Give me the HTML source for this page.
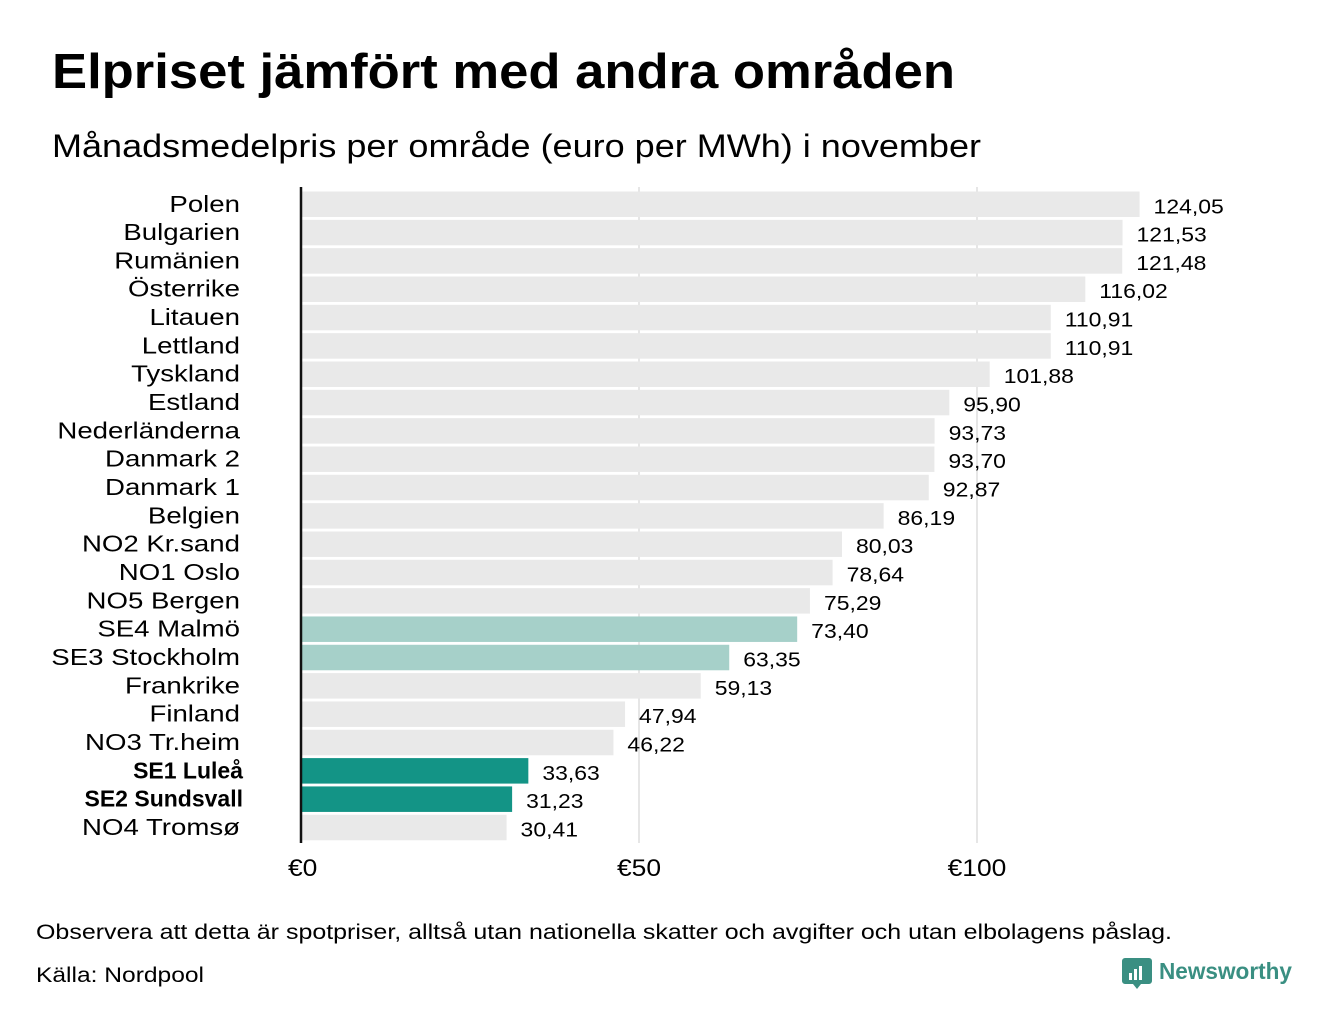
<!DOCTYPE html>
<html><head><meta charset="utf-8"><style>
body{margin:0;background:#fff;width:1340px;height:1020px;overflow:hidden;font-family:"Liberation Sans",sans-serif;color:#111}
</style></head><body>
<svg width="1340" height="1020" xmlns="http://www.w3.org/2000/svg" id="chart">
<text x="52" y="88" font-size="49" font-weight="bold" textLength="903" lengthAdjust="spacingAndGlyphs">Elpriset jämfört med andra områden</text>
<text x="52" y="157" font-size="32" textLength="929" lengthAdjust="spacingAndGlyphs">Månadsmedelpris per område (euro per MWh) i november</text>
<g id="grid"></g>
<g id="bars"></g>
<line x1="301" y1="187" x2="301" y2="843" stroke="#111" stroke-width="2.5"/>
<text x="36" y="939" font-size="21" textLength="1136" lengthAdjust="spacingAndGlyphs">Observera att detta är spotpriser, alltså utan nationella skatter och avgifter och utan elbolagens påslag.</text>
<text x="36" y="982" font-size="21" textLength="168" lengthAdjust="spacingAndGlyphs">Källa: Nordpool</text>
<g>
<path d="M1125 958 h24 a3 3 0 0 1 3 3 v20 a3 3 0 0 1 -3 3 h-8 l-4 5 l-4 -5 h-8 a3 3 0 0 1 -3 -3 v-20 a3 3 0 0 1 3 -3z" fill="#3a8f82"/>
<rect x="1129" y="973" width="3" height="7" fill="#fff"/><rect x="1134" y="969" width="3" height="11" fill="#fff"/><rect x="1139" y="966" width="3" height="14" fill="#fff"/>
<text x="1159" y="979" font-size="23" font-weight="bold" fill="#3a8f82" textLength="133" lengthAdjust="spacingAndGlyphs">Newsworthy</text>
</g>
</svg>
<script>
const categories=["Polen","Bulgarien","Rumänien","Österrike","Litauen","Lettland","Tyskland","Estland","Nederländerna","Danmark 2","Danmark 1","Belgien","NO2 Kr.sand","NO1 Oslo","NO5 Bergen","SE4 Malmö","SE3 Stockholm","Frankrike","Finland","NO3 Tr.heim","SE1 Luleå","SE2 Sundsvall","NO4 Tromsø"];
const values=[124.05,121.53,121.48,116.02,110.91,110.91,101.88,95.90,93.73,93.70,92.87,86.19,80.03,78.64,75.29,73.40,63.35,59.13,47.94,46.22,33.63,31.23,30.41];
const highlight=["","","","","","","","","","","","","","","","light","light","","","","dark","dark",""];
const ticks=[0,50,100];
const tickLabels=["€0","€50","€100"];
const NS="http://www.w3.org/2000/svg";
const x=v=>301+v*6.76;
const y=i=>191.5+i*28.33;
const bh=25.5;
const grid=document.getElementById('grid'),bars=document.getElementById('bars');
function mk(t,a,p){const e=document.createElementNS(NS,t);for(const k in a)e.setAttribute(k,a[k]);p.appendChild(e);return e;}
function widen(e,f){const w=e.getComputedTextLength();e.setAttribute('textLength',w*f);e.setAttribute('lengthAdjust','spacingAndGlyphs');}
ticks.forEach((t,i)=>{
 if(t>0){const l=mk('line',{x1:x(t),x2:x(t),y1:187,y2:843,stroke:'#ccc','stroke-width':1},grid);
 
 }
 const tx=mk('text',{x:x(t),y:876,'font-size':24,'text-anchor':'middle'},grid);
 if(t==0){tx.setAttribute('x',x(t)-13);tx.setAttribute('text-anchor','start');}
 tx.textContent=tickLabels[i];
 
 
 widen(tx,1.1);
});
categories.forEach((c,i)=>{
 const col=highlight[i]=='dark'?'#139486':highlight[i]=='light'?'#a6d0c9':'#e9e9e9';
 const r=mk('rect',{x:302,y:y(i),width:x(values[i])-302,height:bh,fill:col},bars);
 
 
 const lb=mk('text',{x:240,y:y(i)+bh/2+7.5,'font-size':23,'text-anchor':'end'},bars);
 lb.textContent=c;
 
 
 if(highlight[i]=='dark'){lb.setAttribute('font-weight','bold');lb.setAttribute('x',243);}
 else widen(lb,1.2);
 const vl=mk('text',{x:x(values[i])+14,y:y(i)+bh/2+9,'font-size':20.5},bars);
 vl.textContent=values[i].toFixed(2).replace('.',',');
 
 
 widen(vl,1.12);
});
</script>
</body></html>
